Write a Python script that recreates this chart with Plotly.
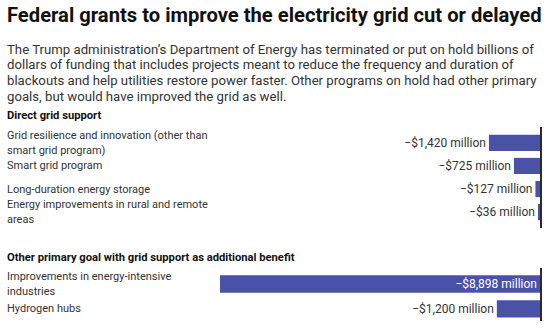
import plotly.graph_objects as go

W, H = 550, 329

title = "Federal grants to improve the electricity grid cut or delayed"
subtitle_lines = [
    "The Trump administration\u2019s Department of Energy has terminated or put on hold billions of",
    "dollars of funding that includes projects meant to reduce the frequency and duration of",
    "blackouts and help utilities restore power faster. Other programs on hold had other primary",
    "goals, but would have improved the grid as well.",
]

group1_title = "Direct grid support"
group1_labels = [
    "Grid resilience and innovation (other than<br>smart grid program)",
    "Smart grid program",
    "Long-duration energy storage",
    "Energy improvements in rural and remote<br>areas",
]
group1_values = [1420, 725, 127, 36]

group2_title = "Other primary goal with grid support as additional benefit"
group2_labels = [
    "Improvements in energy-intensive<br>industries",
    "Hydrogen hubs",
]
group2_values = [8898, 1200]

BAR = "#4a52a8"
TXT = "#333333"
FONT = "Roboto"


def py(p):
    return 1 - p / H


def fmt(v):
    return "\u2212$" + f"{v:,}" + " million"


max_v = max(group1_values + group2_values)
zero_px = 540
max_px = 220
xmin = -max_v * zero_px / (zero_px - max_px)

fig = go.Figure()

for vals, labels, xa, ya in [
    (group1_values, group1_labels, "x", "y"),
    (group2_values, group2_labels, "x2", "y2"),
]:
    pos = ["inside" if v == max_v else "outside" for v in vals]
    fig.add_trace(go.Bar(
        x=[-v for v in vals], y=labels, orientation="h",
        marker=dict(color=BAR, line=dict(width=0)),
        text=[fmt(v) for v in vals], textposition=pos,
        insidetextanchor="start",
        insidetextfont=dict(color="white", size=12, family=FONT),
        outsidetextfont=dict(color=TXT, size=12, family=FONT),
        constraintext="none", cliponaxis=False,
        xaxis=xa, yaxis=ya, hoverinfo="skip", showlegend=False,
    ))

xdom = [0, zero_px / W]
ax_common = dict(range=[xmin, 0], showgrid=False, zeroline=False,
                 showticklabels=False, ticks="", fixedrange=True)
fig.update_layout(
    xaxis=dict(domain=xdom, anchor="y", **ax_common),
    xaxis2=dict(domain=xdom, anchor="y2", **ax_common),
    yaxis=dict(domain=[py(227.9), py(127.1)], anchor="x", side="right",
               categoryorder="array", categoryarray=group1_labels,
               autorange="reversed", showticklabels=False, ticks="",
               showgrid=False, zeroline=False, showline=True,
               linecolor="#2a2a2a", linewidth=1.5),
    yaxis2=dict(domain=[py(321.25), py(268.25)], anchor="x2", side="right",
                categoryorder="array", categoryarray=group2_labels,
                autorange="reversed", showticklabels=False, ticks="",
                showgrid=False, zeroline=False, showline=True,
                linecolor="#2a2a2a", linewidth=1.5),
    bargap=0.3,
    width=W, height=H,
    margin=dict(l=0, r=0, t=0, b=0),
    paper_bgcolor="white", plot_bgcolor="white",
    font=dict(family=FONT, color=TXT),
)

LX = 5 / W
ann = []
ann.append(dict(text="<b>" + title + "</b>", x=LX, y=py(15), xref="paper", yref="paper",
                xanchor="left", yanchor="middle", showarrow=False,
                font=dict(size=20.2, color="#111111", family=FONT)))
for i, line in enumerate(subtitle_lines):
    ann.append(dict(text=line, x=LX, y=py(49 + i * 15.7), xref="paper", yref="paper",
                    xanchor="left", yanchor="middle", showarrow=False,
                    font=dict(size=13.2, color=TXT, family=FONT)))
ann.append(dict(text="<b>" + group1_title + "</b>", x=LX, y=py(116), xref="paper", yref="paper",
                xanchor="left", yanchor="middle", showarrow=False,
                font=dict(size=11.2, color="#111111", family=FONT)))
ann.append(dict(text="<b>" + group2_title + "</b>", x=LX, y=py(257.5), xref="paper", yref="paper",
                xanchor="left", yanchor="middle", showarrow=False,
                font=dict(size=11.2, color="#111111", family=FONT)))
LINE_GAP = 14.5
for labels, ya in [(group1_labels, "y"), (group2_labels, "y2")]:
    for lab in labels:
        parts = lab.split("<br>")
        n = len(parts)
        for k, part in enumerate(parts):
            shift = ((n - 1) / 2 - k) * LINE_GAP
            ann.append(dict(text=part, x=LX, y=lab, xref="paper", yref=ya, yshift=shift,
                            xanchor="left", yanchor="middle", align="left", showarrow=False,
                            font=dict(size=11, color=TXT, family=FONT)))
fig.update_layout(annotations=ann)

fig.write_html("out.html", config={"displayModeBar": False})
